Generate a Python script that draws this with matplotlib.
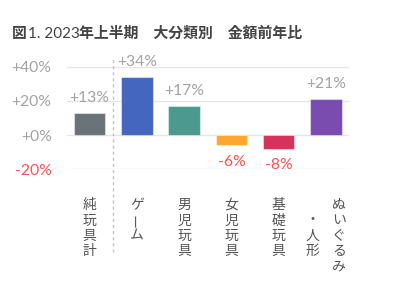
import matplotlib
matplotlib.use("Agg")
import matplotlib.pyplot as plt
import matplotlib.transforms as mtransforms

# Data
categories = ["純玩具計", "ゲーム", "男児玩具", "女児玩具", "基礎玩具", "ぬいぐるみ・人形"]
values = [13, 34, 17, -6, -8, 21]
bar_colors = ["#6a7377", "#4466bf", "#4a9a8f", "#ffa630", "#d5325c", "#7a4cb0"]
yticks = [-20, 0, 20, 40]
ytick_labels = ["-20%", "+0%", "+20%", "+40%"]

LATIN = "Lato"
CJK = "Noto Sans CJK JP"
POS_COLOR = "#a3a3a3"
NEG_COLOR = "#ff5050"
NUM_SIZE = 11.3

fig = plt.figure(figsize=(4.0, 2.89), dpi=100)
ax = fig.add_axes([0.1675, 0.4142, 0.705, 0.355])
ax.set_xlim(-0.48, 5.49)
ax.set_ylim(-20, 40)

# grid lines
for t in yticks:
    ax.axhline(t, color="#e4e6e8", lw=1.0, zorder=0)

x = list(range(len(categories)))
ax.bar(x, values, width=0.67, color=bar_colors, edgecolor=(1, 1, 1, 0.45),
       linewidth=0.8, zorder=2)

# value labels
for xi, v in zip(x, values):
    if v >= 0:
        ax.annotate(f"+{v}%", xy=(xi, v), xytext=(0, 7.8), textcoords="offset points",
                    ha="center", va="baseline", fontsize=NUM_SIZE, color=POS_COLOR,
                    family=LATIN, annotation_clip=False)
    else:
        ax.annotate(f"{v}%", xy=(xi, v), xytext=(0, -7), textcoords="offset points",
                    ha="center", va="top", fontsize=NUM_SIZE, color=NEG_COLOR,
                    family=LATIN, annotation_clip=False)

# y axis
ax.set_yticks(yticks)
ax.set_yticklabels(ytick_labels, family=LATIN, fontsize=NUM_SIZE)
for lbl, t in zip(ax.get_yticklabels(), yticks):
    lbl.set_color(NEG_COLOR if t < 0 else POS_COLOR)
ax.tick_params(axis="y", length=0, pad=11)
ax.set_xticks([])
for s in ax.spines.values():
    s.set_visible(False)

# dashed separator after the total column
trans = mtransforms.blended_transform_factory(ax.transData, ax.transAxes)
ax.plot([0.5, 0.5], [-0.806, 1.094], transform=trans, clip_on=False,
        color="#c4c4c4", lw=1.0, ls=(0, (2.2, 2.2)), zorder=1)

# vertical category labels
PITCH = 11.1   # points between characters
FIRST = 25.7   # points below axes bottom to first character centre
COL_GAP = 9.4


def vertical_column(xi, text, dx, row0):
    for k, ch in enumerate(text):
        rot = 90 if ch == "ー" else 0
        ax.annotate(ch, xy=(xi, 0), xycoords=("data", "axes fraction"),
                    xytext=(dx, -(FIRST + (row0 + k) * PITCH)), textcoords="offset points",
                    ha="center", va="center", fontsize=10, color="#555555",
                    family=CJK, rotation=rot, annotation_clip=False)


for xi, cat in zip(x, categories):
    if "・" in cat:
        first, second = cat.split("・")
        second = "・" + second
        vertical_column(xi, first, COL_GAP, 0)
        vertical_column(xi, second, -COL_GAP, (len(first) - len(second)) / 2)
    else:
        vertical_column(xi, cat, 0, 0)

# title in mixed weights
TITLE_COLOR = "#444444"
t1 = fig.text(12 / 400, 1 - 38 / 289, "図", family=CJK, weight="bold", fontsize=10.7,
              color=TITLE_COLOR, va="baseline", ha="left")
ann2 = plt.annotate("1. 2023", xy=(1, 0), xycoords=t1, xytext=(0.5, 0), textcoords="offset points",
                    family=LATIN, fontsize=11, color=TITLE_COLOR, va="bottom", ha="left",
                    annotation_clip=False)
ann3 = plt.annotate("年上半期　大分類別　金額前年比", xy=(1, 0), xycoords=ann2,
                    family=CJK, weight="bold", fontsize=10.7, color=TITLE_COLOR,
                    va="bottom", ha="left", annotation_clip=False)

fig.savefig("out.png", dpi=100)
